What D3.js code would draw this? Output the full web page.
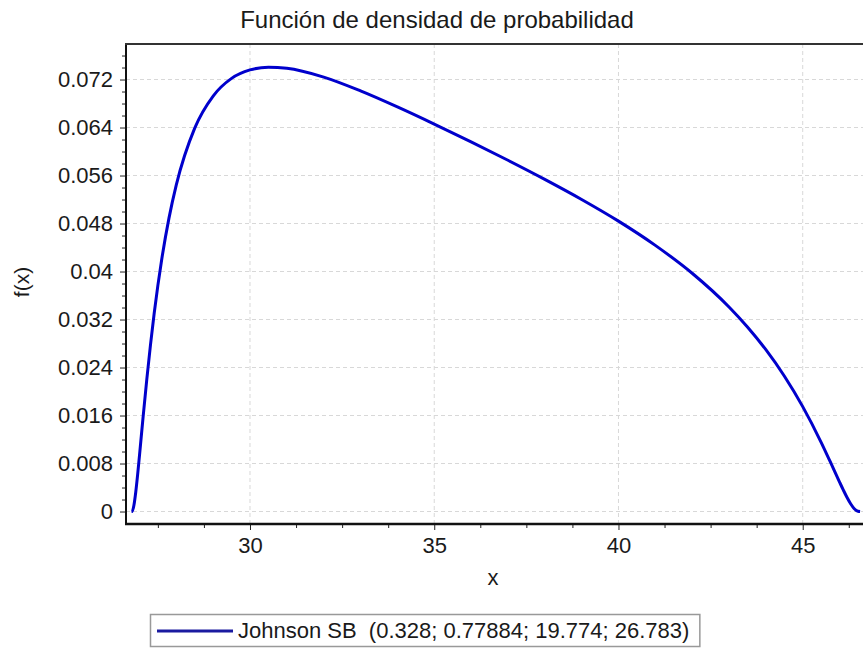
<!DOCTYPE html>
<html>
<head>
<meta charset="utf-8">
<script src="https://cdn.jsdelivr.net/npm/d3@7"></script>
<style>
  html, body { margin: 0; padding: 0; background: #ffffff; }
  svg { display: block; }
  text { font-family: "Liberation Sans", Arial, sans-serif; fill: #1a1a1a; white-space: pre; }
</style>
</head>
<body>
<svg id="chart" width="863" height="648"></svg>
<script>
// ---- data ----
const xValues = [26.783, 26.8, 26.85, 26.9, 26.95, 27.0, 27.1, 27.2, 27.3, 27.4, 27.5, 27.6, 27.8, 28.0,
  28.5, 29.0, 29.5, 30.0, 30.5, 31, 32, 33, 34, 35, 36, 37, 38, 39, 40, 41, 42, 43, 43.5, 44, 44.5,
  45, 45.5, 45.75, 46, 46.1, 46.2, 46.3, 46.4, 46.5, 46.557];
const densityValues = [0, 0.00003, 0.00105, 0.00326, 0.00612, 0.00929, 0.01582, 0.02207, 0.02783, 0.03304,
  0.03769, 0.04185, 0.04886, 0.05443, 0.06390, 0.06925, 0.07219, 0.07360, 0.07405, 0.07388, 0.07241,
  0.07011, 0.06744, 0.06458, 0.06160, 0.05854, 0.05536, 0.05201, 0.04840, 0.04436, 0.03971, 0.03409,
  0.03076, 0.02697, 0.02259, 0.01748, 0.01154, 0.00826, 0.00491, 0.00361, 0.00238, 0.00130, 0.00047,
  0.00004, 0];
const xTicks = [30, 35, 40, 45];
const xTickLabels = ["30", "35", "40", "45"];
const xMinorTicks = [27.5, 28.75, 31.25, 32.5, 33.75, 36.25, 37.5, 38.75, 41.25, 42.5, 43.75, 46.25];
const yTicks = [0, 0.008, 0.016, 0.024, 0.032, 0.04, 0.048, 0.056, 0.064, 0.072];
const yTickLabels = ["0", "0.008", "0.016", "0.024", "0.032", "0.04", "0.048", "0.056", "0.064", "0.072"];
const yMinorTicks = [0.002, 0.004, 0.006, 0.010, 0.012, 0.014, 0.018, 0.020, 0.022, 0.026, 0.028, 0.030,
  0.034, 0.036, 0.038, 0.042, 0.044, 0.046, 0.050, 0.052, 0.054, 0.058, 0.060, 0.062, 0.066, 0.068,
  0.070, 0.074, 0.076];
const titleText = "Función de densidad de probabilidad";
const xLabel = "x";
const yLabel = "f(x)";
const legendLabel = "Johnson SB  (0.328; 0.77884; 19.774; 26.783)";

// ---- layout ----
const W = 863, H = 648;
const plot = { left: 126, top: 44, right: 870, bottom: 524 };
const curveColor = "#0000cc";

const svg = d3.select("#chart");
svg.append("rect").attr("width", W).attr("height", H).attr("fill", "#ffffff");

const x = d3.scaleLinear().domain([26.635, 46.826]).range([plot.left, plot.right]);
const y = d3.scaleLinear().domain([-0.00208, 0.07792]).range([plot.bottom, plot.top]);

// grid
const grid = svg.append("g");
grid.selectAll("line.hg").data(yTicks).join("line")
  .attr("x1", plot.left).attr("x2", W)
  .attr("y1", d => y(d)).attr("y2", d => y(d))
  .attr("stroke", "#d8d8d8").attr("stroke-width", 1).attr("stroke-dasharray", "4,3");
grid.selectAll("line.vg").data(xTicks).join("line")
  .attr("x1", d => x(d)).attr("x2", d => x(d))
  .attr("y1", plot.top).attr("y2", plot.bottom)
  .attr("stroke", "#d8d8d8").attr("stroke-width", 1).attr("stroke-dasharray", "4,3");

// curve
const pts = xValues.map((v, i) => [v, densityValues[i]]);
const line = d3.line().x(d => x(d[0])).y(d => y(d[1])).curve(d3.curveMonotoneX);
svg.append("path").datum(pts).attr("d", line)
  .attr("fill", "none").attr("stroke", curveColor).attr("stroke-width", 3)
  .attr("stroke-linejoin", "round");

// axes
const yAxis = d3.axisLeft(y).tickValues(yTicks).tickSize(6).tickPadding(7)
  .tickFormat((d, i) => yTickLabels[i]);
const gy = svg.append("g").attr("transform", `translate(${plot.left},0)`).call(yAxis);
const yMinor = d3.axisLeft(y).tickValues(yMinorTicks).tickSize(4).tickFormat("");
const gym = svg.append("g").attr("transform", `translate(${plot.left},0)`).call(yMinor);

const xAxis = d3.axisBottom(x).tickValues(xTicks).tickSize(6).tickPadding(7)
  .tickFormat((d, i) => xTickLabels[i]);
const gx = svg.append("g").attr("transform", `translate(0,${plot.bottom})`).call(xAxis);
const xMinor = d3.axisBottom(x).tickValues(xMinorTicks).tickSize(4).tickFormat("");
const gxm = svg.append("g").attr("transform", `translate(0,${plot.bottom})`).call(xMinor);

[gy, gym, gx, gxm].forEach(g => {
  g.select(".domain").remove();
  g.selectAll(".tick line").attr("stroke", "#222").attr("stroke-width", 1);
  g.selectAll(".tick text").attr("font-size", 22).attr("fill", "#1a1a1a")
    .attr("font-family", "'Liberation Sans', Arial, sans-serif");
});

// frame lines
svg.append("line").attr("x1", plot.left).attr("x2", plot.left)
  .attr("y1", plot.top - 1).attr("y2", plot.bottom + 1)
  .attr("stroke", "#111").attr("stroke-width", 2);
svg.append("line").attr("x1", plot.left - 1).attr("x2", W)
  .attr("y1", plot.bottom).attr("y2", plot.bottom)
  .attr("stroke", "#111").attr("stroke-width", 2.5);
svg.append("line").attr("x1", plot.left - 1).attr("x2", W)
  .attr("y1", plot.top).attr("y2", plot.top)
  .attr("stroke", "#333").attr("stroke-width", 2);

// title and axis labels
svg.append("text").attr("x", 437).attr("y", 28).attr("text-anchor", "middle")
  .attr("font-size", 24).text(titleText);
svg.append("text").attr("x", 493).attr("y", 585).attr("text-anchor", "middle")
  .attr("font-size", 22).text(xLabel);
svg.append("text").attr("transform", "translate(29,282) rotate(-90)")
  .attr("text-anchor", "middle").attr("font-size", 21).text(yLabel);

// legend
const lg = svg.append("g");
const legText = lg.append("text").attr("x", 238).attr("y", 638)
  .attr("font-size", 22).attr("xml:space", "preserve").text(legendLabel);
const tw = legText.node().getComputedTextLength();
lg.insert("rect", "text").attr("x", 150.5).attr("y", 614.5)
  .attr("width", 238 + tw + 10 - 150).attr("height", 32)
  .attr("fill", "#ffffff").attr("stroke", "#999").attr("stroke-width", 1.5);
lg.append("line").attr("x1", 157).attr("x2", 233).attr("y1", 631).attr("y2", 631)
  .attr("stroke", "#1a1aa0").attr("stroke-width", 3);
</script>
</body>
</html>
